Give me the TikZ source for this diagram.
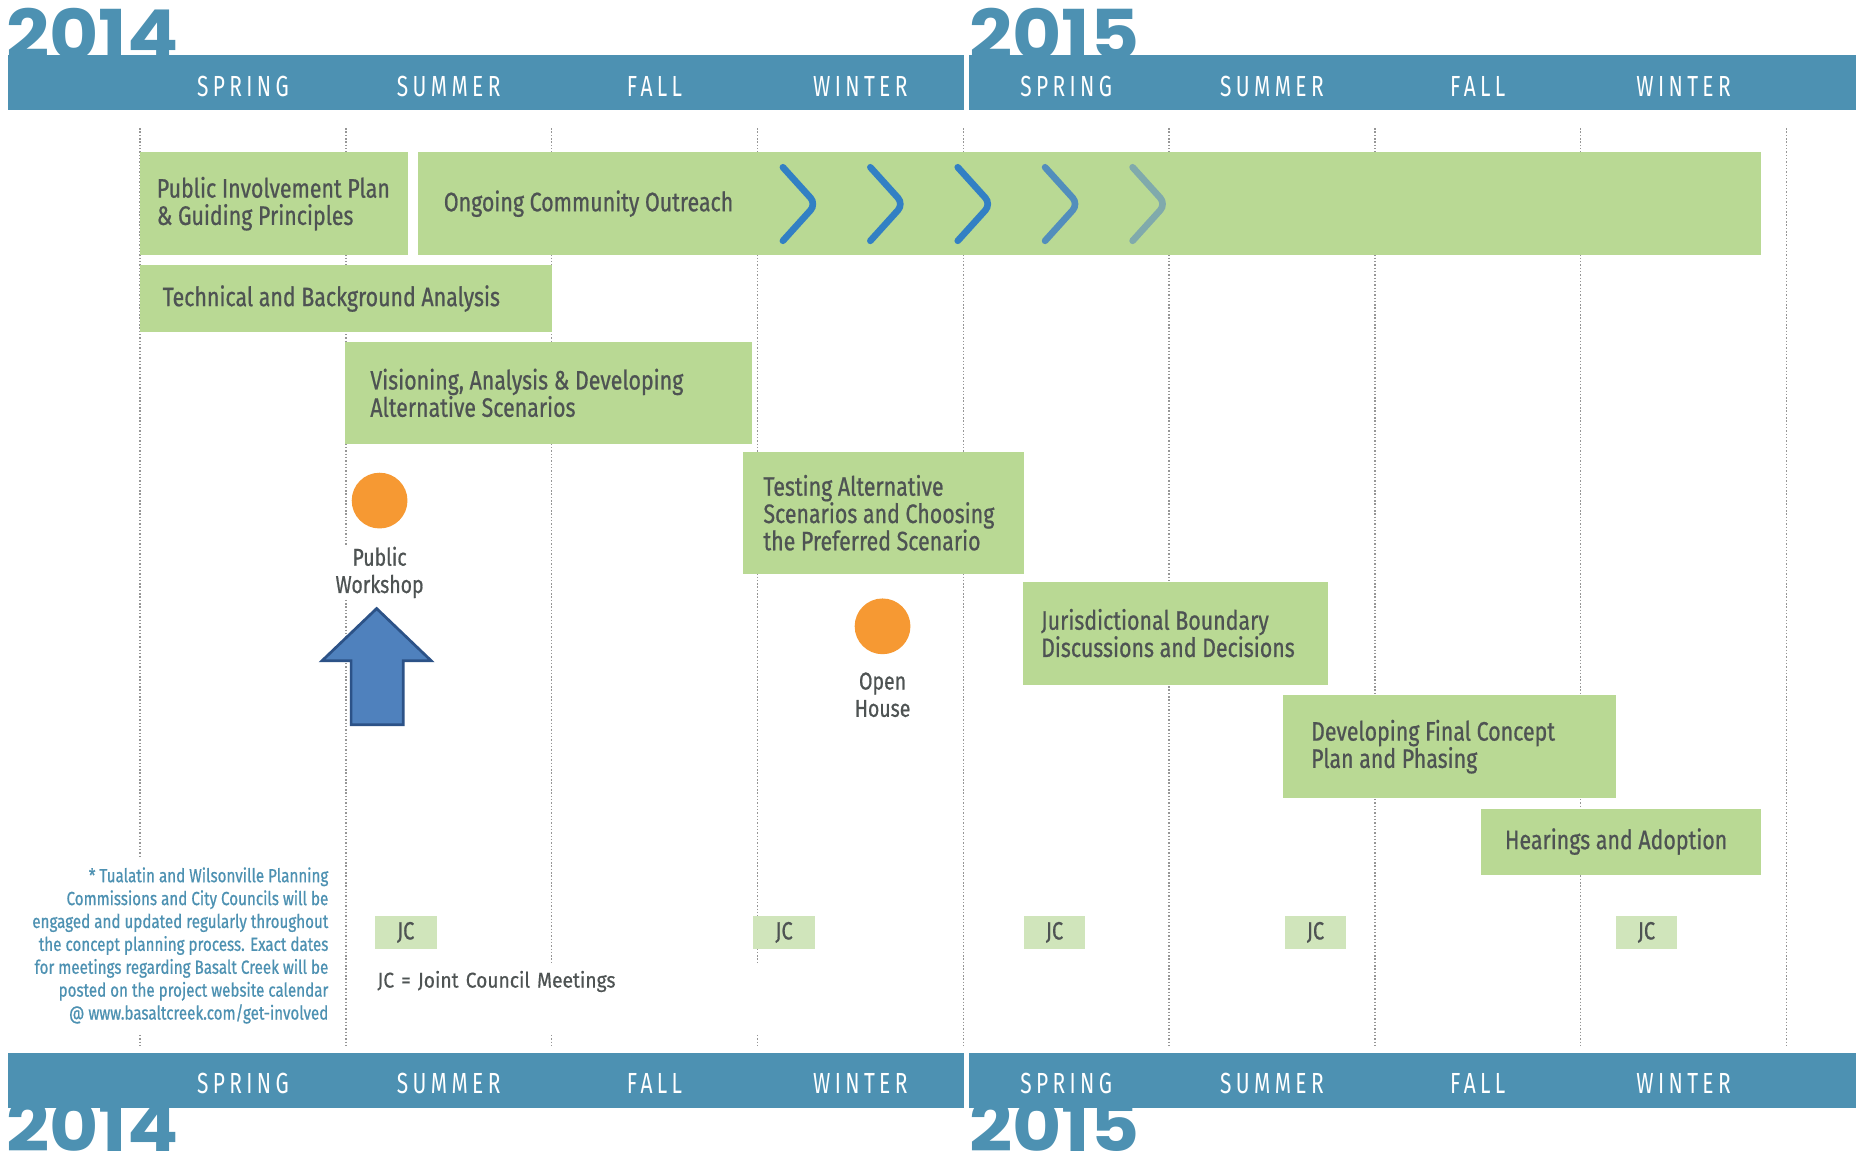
\documentclass[tikz,border=0pt]{standalone}
\usepackage{fontspec}
\setmainfont{Fira Sans}[FakeStretch=0.8,FakeBold=0.7]
\newfontfamily\seasonfont{Fira Sans}[FakeStretch=0.72,LetterSpace=15]
\newfontfamily\keyfont{Fira Sans}[FakeStretch=0.9,FakeBold=0.5]
\newfontfamily\yearfont{Poppins}[FakeStretch=1.1]
\usepackage{tikz}
\usetikzlibrary{positioning}

\definecolor{barblue}{RGB}{77,145,178}
\definecolor{phasegreen}{RGB}{185,217,148}
\definecolor{jcgreen}{RGB}{208,229,187}
\definecolor{textgray}{RGB}{78,83,83}
\definecolor{dotgray}{RGB}{150,150,150}
\definecolor{eventorange}{RGB}{246,153,51}
\definecolor{arrowfill}{RGB}{79,129,189}
\definecolor{arrowdraw}{RGB}{44,82,135}
\definecolor{chevdark}{RGB}{50,128,196}
\definecolor{chevmid}{RGB}{82,142,188}
\definecolor{chevpale}{RGB}{128,170,172}

\tikzset{
    phase/.style={fill=phasegreen, anchor=north west, inner sep=0pt},
    phase text/.style={text=textgray, align=left, inner sep=0pt, font=\fontsize{22.5}{23}\selectfont},
    season/.style={text=white, inner sep=0pt, font=\seasonfont\fontsize{24.5}{24.5}\selectfont},
    year/.style={text=barblue, inner sep=0pt, text depth=0pt, font=\yearfont\bfseries\fontsize{58}{58}\selectfont},
    gridline/.style={dotgray, line width=1.2pt, dash pattern=on 1.2pt off 1.6pt},
    chevron/.style={line width=5.6pt, line cap=round, rounded corners=7pt},
    jc/.style={fill=jcgreen, text=textgray, minimum width=52pt, minimum height=28pt, inner sep=0pt, font=\fontsize{21}{21}\selectfont},
    event/.style={circle, fill=eventorange, minimum size=47pt, inner sep=0pt},
    event label/.style={fill=white, text=textgray, align=center, inner xsep=2pt, inner ysep=0pt, font=\fontsize{20.5}{23}\selectfont},
    workshop arrow/.style={fill=arrowfill, draw=arrowdraw, line width=2.3pt},
    note/.style={fill=white, text=barblue, align=right, inner xsep=4pt, inner ysep=8pt, font=\fontsize{16}{19.3}\selectfont},
    key/.style={fill=white, text=textgray, inner sep=0pt, text height=19.5pt, text depth=38.5pt, text width=327pt, font=\keyfont\fontsize{18}{18}\selectfont},
}

\begin{document}
\begin{tikzpicture}[x=1pt, y=-1pt]
\fill[white] (0,0) rectangle (1568,972.8);
\useasboundingbox (0,0) rectangle (1568,972.8);

\foreach \i in {0,...,8}
    \draw[gridline] ({118+173.5*\i},108) -- ({118+173.5*\i},882);

\node[year, anchor=base west] (year top 2014) at (5,50) {2014};
\node[year, anchor=base west] (year top 2015) at (817,50) {2015};
\node[year, anchor=base west] (year bottom 2014) at (5,971) {2014};
\node[year, anchor=base west] (year bottom 2015) at (817,971) {2015};

\fill[barblue] (6.5,46.5) rectangle (812.5,92.7);
\fill[barblue] (816.5,46.5) rectangle (1565,92.7);
\fill[barblue] (6.5,888) rectangle (812.5,934);
\fill[barblue] (816.5,888) rectangle (1565,934);

\foreach \s [count=\i] in {SPRING,SUMMER,FALL,WINTER,SPRING,SUMMER,FALL,WINTER} {
    \node[season] (top \i) at ({118+173.5*(\i-0.5)},72.5) {\s};
    \node[season] (bottom \i) at ({118+173.5*(\i-0.5)},913) {\s};
}

\node[phase, minimum width=226pt, minimum height=87pt] (pip) at (117.5,128) {};
\node[phase text, right=14.5pt of pip.west] (pip text) {Public Involvement Plan\\\& Guiding Principles};

\node[phase, minimum width=1131.5pt, minimum height=87pt] (outreach) at (352.5,128) {};
\node[phase text, right=21.5pt of outreach.west] (outreach text) {Ongoing Community Outreach};
\foreach \x/\c in {660/chevdark,733.7/chevdark,807.4/chevdark,881/chevmid,954.8/chevpale}
    \draw[chevron, \c] (\x,141) -- ({\x+28},172) -- (\x,203);

\node[phase, minimum width=347pt, minimum height=56pt] (tech) at (118,223.5) {};
\node[phase text, right=19pt of tech.west] (tech text) {Technical and Background Analysis};

\node[phase, minimum width=343pt, minimum height=86pt] (vision) at (291,288) {};
\node[phase text, right=21pt of vision.west] (vision text) {Visioning, Analysis \& Developing\\Alternative Scenarios};

\node[phase, minimum width=236.5pt, minimum height=102.5pt] (testing) at (626.4,380.8) {};
\node[phase text, right=17pt of testing.west] (testing text) {Testing Alternative\\Scenarios and Choosing\\the Preferred Scenario};

\node[phase, minimum width=256.5pt, minimum height=87pt] (boundary) at (862.5,490) {};
\node[phase text, right=15pt of boundary.west] (boundary text) {Jurisdictional Boundary\\Discussions and Decisions};

\node[phase, minimum width=280.7pt, minimum height=86.5pt] (concept) at (1081.6,586) {};
\node[phase text, right=23.5pt of concept.west] (concept text) {Developing Final Concept\\Plan and Phasing};

\node[phase, minimum width=236pt, minimum height=55.5pt] (hearings) at (1248,681.5) {};
\node[phase text, right=20.5pt of hearings.west] (hearings text) {Hearings and Adoption};

\node[event] (workshop) at (320,422) {};
\node[event label, below=15pt of workshop] (workshop label) {Public\\Workshop};
\draw[workshop arrow] (317.5,513) -- (363.5,557) -- (340,557) -- (340,611) -- (296,611) -- (296,557) -- (271.5,557) -- cycle;

\node[event] (open house) at (744,528) {};
\node[event label, below=15pt of open house] (open house label) {Open\\House};

\foreach \x [count=\i] in {342,661,889,1109,1388}
    \node[jc] (jc \i) at (\x,786) {JC};

\node[key, anchor=base west] (jc key) at (318,832.5) {JC = Joint Council Meetings};

\node[note, anchor=north east] (note) at (281,723) {* Tualatin and Wilsonville Planning\\Commissions and City Councils will be\\engaged and updated regularly throughout\\the concept planning process. Exact dates\\for meetings regarding Basalt Creek will be\\posted on the project website calendar\\@ www.basaltcreek.com/get-involved};
\end{tikzpicture}
\end{document}
